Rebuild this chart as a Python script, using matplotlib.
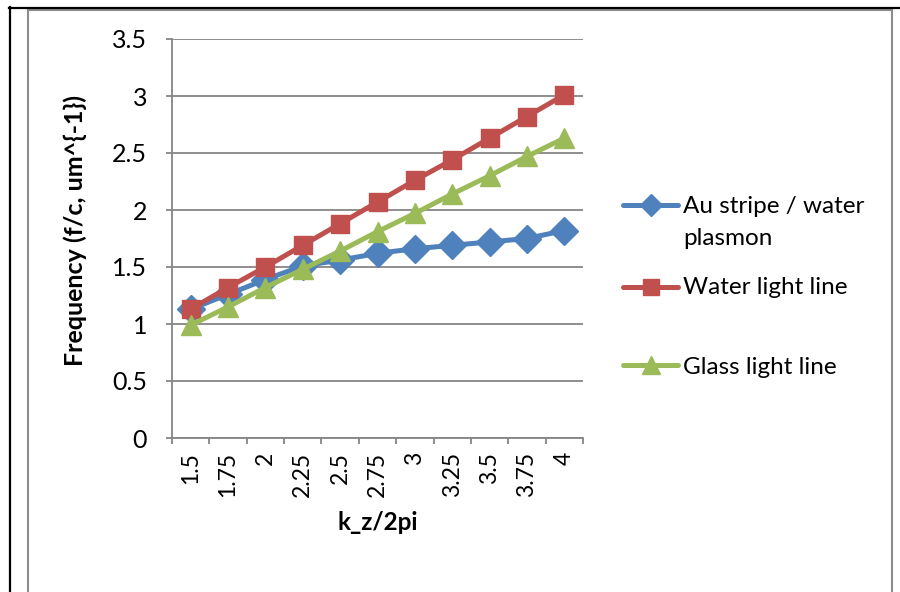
import matplotlib
matplotlib.use("Agg")
import matplotlib.pyplot as plt
from matplotlib.lines import Line2D
from matplotlib.patches import Rectangle

plt.rcParams['font.family'] = ['Lato', 'DejaVu Sans']

# k_z / 2pi sample points (categorical axis)
k_labels = ["1.5", "1.75", "2", "2.25", "2.5", "2.75", "3", "3.25", "3.5", "3.75", "4"]

# Frequency (f/c, um^-1)
au_plasmon = [1.13, 1.26, 1.39, 1.51, 1.56, 1.62, 1.66, 1.69, 1.72, 1.75, 1.82]
water_line = [1.13, 1.32, 1.50, 1.69, 1.88, 2.07, 2.26, 2.44, 2.63, 2.82, 3.01]
glass_line = [0.99, 1.15, 1.32, 1.48, 1.64, 1.81, 1.97, 2.14, 2.30, 2.47, 2.63]

series_names = ["Au stripe / water\nplasmon", "Water light line", "Glass light line"]
series_values = [au_plasmon, water_line, glass_line]
colors = ["#4F81BD", "#C0504D", "#9BBB59"]
markers = ["D", "s", "^"]
plot_ms = [14, 13.5, 14.5]
legend_ms = [11, 12, 12.5]

W, H = 900, 592
fig = plt.figure(figsize=(W / 100, H / 100), dpi=100)


def fx(px):
    return px / W


def fy(py):
    return 1 - py / H


# page / cell frame
fig.add_artist(Line2D([fx(10), fx(10)], [fy(7), 0], color="black", lw=1.6))
fig.add_artist(Line2D([fx(9), 1], [fy(7.5), fy(7.5)], color="black", lw=1.6))
fig.add_artist(Rectangle((fx(27.5), -0.05), fx(892) - fx(27.5), fy(9.5) + 0.05,
                         fill=False, edgecolor="#8c8c8c", lw=1.5))

ax = fig.add_axes([fx(172), fy(438), fx(583) - fx(172), fy(39) - fy(438)])
x = list(range(len(k_labels)))

for vals, color, marker, ms in zip(series_values, colors, markers, plot_ms):
    ax.plot(x, vals, color=color, lw=3.6, marker=marker, markersize=ms,
            markeredgecolor=color, markerfacecolor=color, solid_joinstyle="round",
            zorder=3)

grid_c = "#868686"
ax.set_ylim(0, 3.5)
ax.set_xlim(-0.5, len(k_labels) - 0.5)
ax.set_yticks([0, 0.5, 1, 1.5, 2, 2.5, 3, 3.5])
ax.set_yticklabels(["0", "0.5", "1", "1.5", "2", "2.5", "3", "3.5"])
ax.yaxis.grid(True, color=grid_c, lw=1.3)
ax.set_axisbelow(True)

# category boundaries carry the tick marks, labels sit at category centres
ax.set_xticks([i - 0.5 for i in range(len(k_labels) + 1)])
ax.set_xticklabels([])
ax.set_xticks(x, minor=True)
ax.set_xticklabels(k_labels, minor=True, rotation=90, fontsize=16.5)
ax.tick_params(axis="x", which="minor", length=0, pad=10)
ax.tick_params(axis="x", which="major", length=4.5, width=1.3, color=grid_c, direction="out")
ax.tick_params(axis="y", length=4.5, width=1.3, color=grid_c, direction="out",
               labelsize=18, pad=13.5)

for side in ("top", "right"):
    ax.spines[side].set_visible(False)
for side in ("left", "bottom"):
    ax.spines[side].set_color(grid_c)
    ax.spines[side].set_linewidth(1.3)

fig.text(fx(75), fy(231), "Frequency (f/c, um^{-1})", rotation=90, fontsize=18,
         fontweight="bold", ha="center", va="center")
fig.text(fx(378), fy(522), "k_z/2pi", fontsize=17.5, fontweight="bold",
         ha="center", va="center")

# legend: handle row positions and text baselines
handle_rows = [205, 287, 365]
text_baselines = [[213, 245], [294], [374]]
for i in range(len(series_names)):
    py = handle_rows[i]
    color = colors[i]
    fig.add_artist(Line2D([fx(623), fx(678)], [fy(py), fy(py)], color=color, lw=3.6,
                          solid_capstyle="round"))
    fig.add_artist(Line2D([fx(650.5)], [fy(py)], color=color, marker=markers[i],
                          markersize=legend_ms[i], markeredgecolor=color,
                          markerfacecolor=color))
    for line, base in zip(series_names[i].split("\n"), text_baselines[i]):
        fig.text(fx(683), fy(base), line, fontsize=17.5, ha="left", va="baseline")

fig.savefig("out.png", dpi=100)
